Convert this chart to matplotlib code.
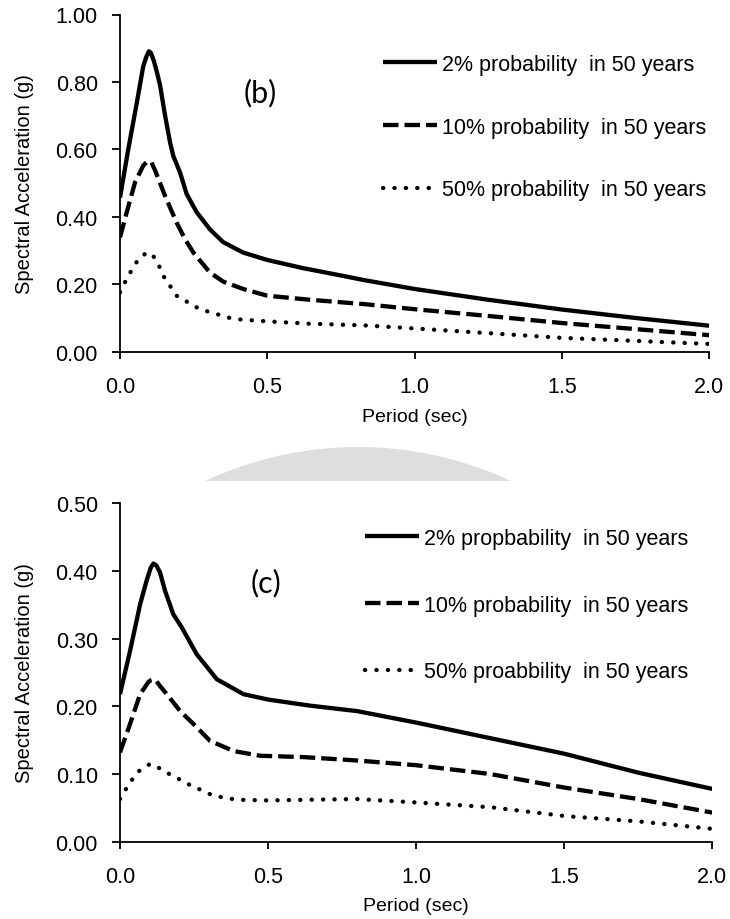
import matplotlib
matplotlib.use("Agg")
import matplotlib.pyplot as plt
from matplotlib.patches import Circle, Rectangle

plt.rcParams["font.family"] = ["Liberation Sans", "DejaVu Sans"]

# ---- Panel (b): uniform hazard spectra ----
period_b2 = [0.0, 0.028, 0.057, 0.079, 0.09, 0.098, 0.105, 0.115, 0.125, 0.136, 0.153,
             0.17, 0.181, 0.204, 0.226, 0.26, 0.305, 0.35, 0.418, 0.5, 0.62, 0.75, 0.83,
             1.0, 1.25, 1.5, 1.75, 2.0]
sa_b_2 = [0.457, 0.60, 0.738, 0.847, 0.876, 0.891, 0.886, 0.862, 0.83, 0.79, 0.70,
          0.62, 0.58, 0.531, 0.468, 0.414, 0.363, 0.325, 0.294, 0.272, 0.248, 0.226, 0.212,
          0.186, 0.154, 0.125, 0.10, 0.077]

period_b10 = [0.0, 0.023, 0.051, 0.079, 0.09, 0.098, 0.107, 0.118, 0.136, 0.153, 0.192,
              0.22, 0.249, 0.305, 0.35, 0.418, 0.5, 0.645, 0.83, 1.0, 1.25, 1.5, 1.75, 2.0]
sa_b_10 = [0.339, 0.414, 0.502, 0.552, 0.562, 0.565, 0.561, 0.54, 0.50, 0.462, 0.383,
           0.335, 0.294, 0.235, 0.208, 0.186, 0.166, 0.154, 0.141, 0.126, 0.106, 0.085, 0.067, 0.049]

period_b50 = [0.0, 0.028, 0.062, 0.085, 0.096, 0.107, 0.12, 0.13, 0.147, 0.192, 0.271,
              0.385, 0.5, 0.645, 0.83, 1.0, 1.25, 1.5, 1.75, 2.0]
sa_b_50 = [0.176, 0.225, 0.274, 0.29, 0.294, 0.29, 0.275, 0.26, 0.225, 0.166, 0.126,
           0.097, 0.09, 0.083, 0.078, 0.069, 0.055, 0.041, 0.032, 0.023]

# ---- Panel (c) ----
period_c2 = [0.0, 0.034, 0.068, 0.09, 0.104, 0.113, 0.123, 0.135, 0.152, 0.18, 0.208,
             0.259, 0.327, 0.417, 0.5, 0.642, 0.8, 1.0, 1.25, 1.5, 1.75, 2.0]
sa_c_2 = [0.218, 0.282, 0.351, 0.386, 0.405, 0.411, 0.408, 0.398, 0.371, 0.336, 0.317,
          0.277, 0.240, 0.218, 0.210, 0.201, 0.193, 0.176, 0.153, 0.130, 0.102, 0.078]

period_c10 = [0.0, 0.034, 0.068, 0.096, 0.106, 0.113, 0.122, 0.135, 0.158, 0.203, 0.248,
              0.304, 0.383, 0.473, 0.62, 0.8, 1.0, 1.25, 1.5, 1.75, 2.0]
sa_c_10 = [0.132, 0.174, 0.218, 0.236, 0.239, 0.240, 0.238, 0.230, 0.218, 0.193, 0.174,
           0.149, 0.134, 0.127, 0.125, 0.120, 0.113, 0.100, 0.080, 0.063, 0.043]

period_c50 = [0.0, 0.023, 0.057, 0.088, 0.104, 0.12, 0.158, 0.231, 0.315, 0.394, 0.5,
              0.64, 0.8, 1.0, 1.25, 1.5, 1.75, 2.0]
sa_c_50 = [0.063, 0.080, 0.102, 0.112, 0.115, 0.112, 0.102, 0.085, 0.068, 0.062, 0.061,
           0.062, 0.063, 0.058, 0.051, 0.038, 0.030, 0.019]

labels_b = ["2% probability  in 50 years",
            "10% probability  in 50 years",
            "50% probability  in 50 years"]
labels_c = ["2% propbability  in 50 years",
            "10% probability  in 50 years",
            "50% proabbility  in 50 years"]

x_ticks = [0.0, 0.5, 1.0, 1.5, 2.0]
y_ticks_b = [0.0, 0.2, 0.4, 0.6, 0.8, 1.0]
y_ticks_c = [0.0, 0.1, 0.2, 0.3, 0.4, 0.5]

W, H = 730, 920
fig = plt.figure(figsize=(W / 100, H / 100), dpi=100)

# faint seal watermark showing in the gap between the two panels
wm = fig.add_axes([0, 0, 1, 1], zorder=-10)
wm.set_xlim(0, W)
wm.set_ylim(H, 0)
wm.axis("off")
band = Rectangle((0, 433), W, 49, transform=wm.transData)
dome = Circle((358, 809), 361, facecolor="#dedede", edgecolor="none")
wm.add_patch(dome)
dome.set_clip_path(band)

line_kw = [
    dict(color="black", lw=3.1, linestyle="-", solid_capstyle="butt", solid_joinstyle="round"),
    dict(color="black", lw=3.1, linestyle=(0, (3.6, 1.4)), dash_capstyle="butt",
         dash_joinstyle="round"),
    dict(color="black", lw=3.1, linestyle=(0, (0.05, 2.6)), dash_capstyle="round"),
]


def px_rect(l, t, r, b):
    return [l / W, 1 - b / H, (r - l) / W, (b - t) / H]


def draw_panel(rect, curves, labels, yticks, ymax, tag, tag_xy, leg_xy, leg_pitch,
               xlabel_y):
    ax = fig.add_axes(px_rect(*rect))
    ax.set_facecolor("none")
    for (per, vals), kw, lab in zip(curves, line_kw, labels):
        ax.plot(per, vals, label=lab, **kw)
    ax.set_xlim(0, 2.0)
    ax.set_ylim(0, ymax)
    ax.set_xticks(x_ticks)
    ax.set_xticklabels([f"{v:.1f}" for v in x_ticks])
    ax.set_yticks(yticks)
    ax.set_yticklabels([f"{v:.2f}" for v in yticks])
    for s in ("top", "right"):
        ax.spines[s].set_visible(False)
    for s in ("left", "bottom"):
        ax.spines[s].set_linewidth(1.3)
    ax.tick_params(axis="x", length=5, width=1.3, pad=12.5, labelsize=15.5)
    ax.tick_params(axis="y", length=6, width=1.3, pad=10, labelsize=15.5)
    ax.set_xlabel("Period (sec)", fontsize=14)
    ax.set_ylabel("Spectral Acceleration (g)", fontsize=14.5)
    w_px = rect[2] - rect[0]
    h_px = rect[3] - rect[1]
    ax.xaxis.set_label_coords(0.5, (rect[3] - xlabel_y) / h_px)
    ax.yaxis.set_label_coords((34 - rect[0]) / w_px, 0.5)
    fig.text(tag_xy[0] / W, 1 - tag_xy[1] / H, tag, fontsize=22,
             family="Lato", ha="center", va="center")
    fs = 15.5
    ax.legend(loc="upper left", bbox_to_anchor=(leg_xy[0] / W, 1 - leg_xy[1] / H),
              bbox_transform=fig.transFigure, frameon=False, fontsize=fs,
              borderpad=0, borderaxespad=0, handlelength=2.5, handletextpad=0.23,
              labelspacing=leg_pitch * 0.72 / fs - 0.95)
    return ax


draw_panel((120, 15.5, 709.3, 352.7),
           [(period_b2, sa_b_2), (period_b10, sa_b_10), (period_b50, sa_b_50)],
           labels_b, y_ticks_b, 1.0, "(b)", (260, 93), (383, 55), 62.0, 409)
draw_panel((120, 504.3, 712.3, 842.7),
           [(period_c2, sa_c_2), (period_c10, sa_c_10), (period_c50, sa_c_50)],
           labels_c, y_ticks_c, 0.5, "(c)", (266, 583), (365, 529), 66.0, 898)

fig.savefig("out.png", dpi=100, facecolor="white")
